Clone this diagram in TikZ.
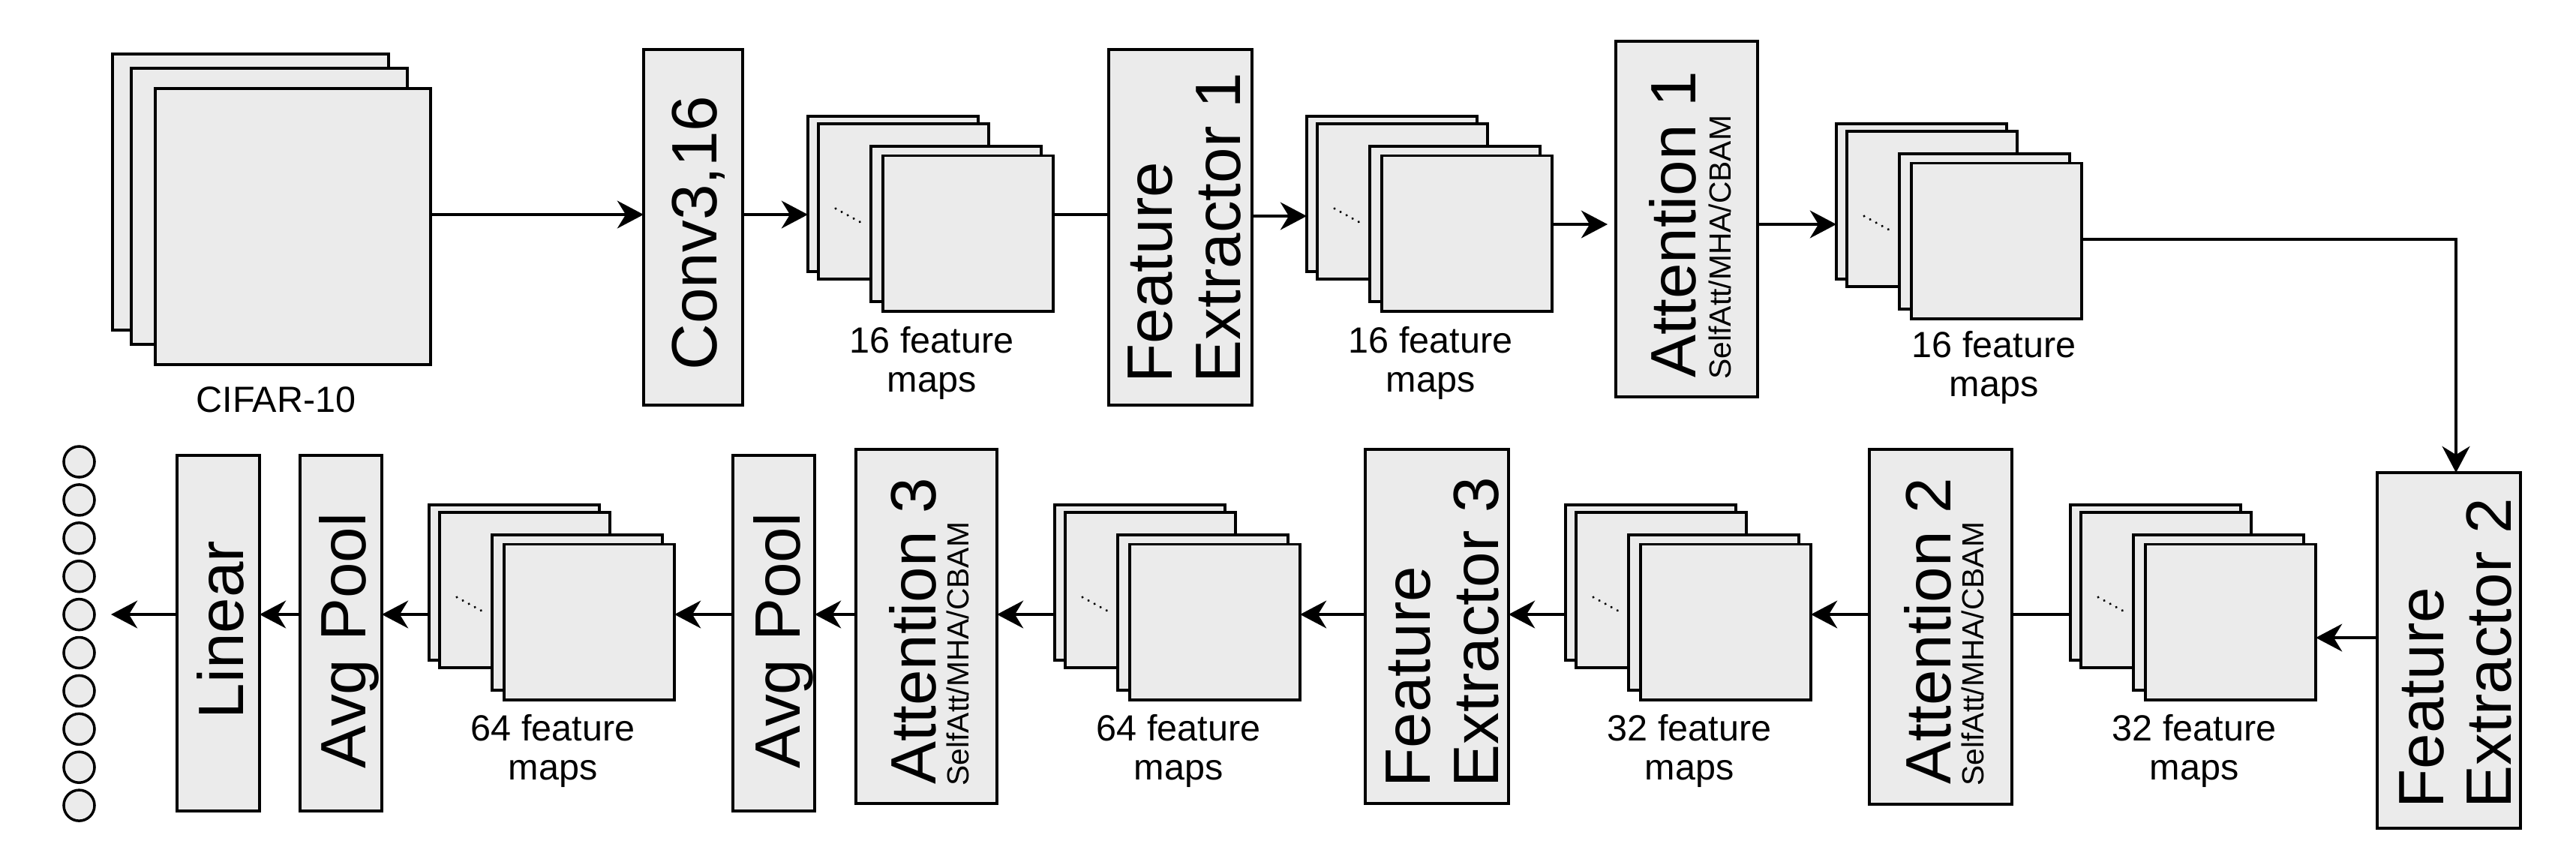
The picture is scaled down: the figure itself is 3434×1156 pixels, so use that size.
\documentclass[tikz,border=0pt]{standalone}
\usepackage{fontspec}
\setmainfont{Liberation Sans}
\usetikzlibrary{arrows.meta}
\definecolor{boxfill}{RGB}{235,235,235}
\tikzset{
  blk/.style={draw=black, fill=boxfill, line width=1.1pt, inner sep=0pt, outer sep=0pt},
  sheet/.style={blk, minimum width=2.27cm, minimum height=2.07cm},
  circ/.style={circle, draw=black, fill=boxfill, line width=1pt, minimum size=0.41cm, inner sep=0pt},
  ln/.style={line width=0.9pt},
  arr/.style={ln, -{Stealth[length=10pt, width=10.5pt, inset=3.2pt]}},
  dots/.style={line width=1pt, line cap=round, dash pattern=on 0.01pt off 2.6pt},
  bigt/.style={rotate=90, anchor=base west, inner sep=0pt, font=\fontsize{24.3pt}{26pt}\selectfont},
  smallt/.style={rotate=90, anchor=base west, inner sep=0pt, font=\fontsize{11.6pt}{12.5pt}\selectfont},
  lab/.style={align=center, inner sep=0pt, font=\fontsize{13.8pt}{14.7pt}\selectfont},
}
\newcommand\blk[5]{\node[blk, minimum width={(#4-#2)*0.01cm}, minimum height={(#5-#3)*0.01cm}] (#1) at ({(#2+#4)/2},{(#3+#5)/2}) {};}
\newcommand\fmstack[3]{%
  \begin{scope}[shift={(#2,#3)}]
    \node[sheet] (#1a) at (113.5,103.5) {};
    \node[sheet] (#1b) at (127.5,113.5) {};
    \node[sheet] (#1c) at (197.5,143.5) {};
    \node[sheet] (#1d) at (213.5,156) {};
    \draw[dots] (37,123) -- (77,145);
  \end{scope}}
\begin{document}
\begin{tikzpicture}[x=0.01cm, y=-0.01cm]
\useasboundingbox (0,0) rectangle (3434,1156);

% helper rows
\coordinate (yA) at (0,286);
\coordinate (yB) at (0,288);
\coordinate (yC) at (0,299);
\coordinate (yD) at (0,319);
\coordinate (yE) at (0,819);
\coordinate (yF) at (0,850);

% input images
\blk{cifa}{150}{72}{518}{440}
\blk{cifb}{175}{91}{543}{459}
\blk{cifc}{207}{118}{574}{486}
\node[lab, anchor=base] (cifl) at (368,549) {CIFAR-10};

% top row boxes
\blk{conv}{858}{66}{990}{540}
\node[bigt] (convt) at (955,494) {Conv3,16};

\fmstack{fmA}{1077}{155}
\node[lab, anchor=north] (fmAl) at (1242,435) {16 feature\\maps};

\blk{fe1}{1478}{66}{1669}{540}
\node[bigt] (fe1t) at (1562,511) {Feature};
\node[bigt] (fe1u) at (1653,511) {Extractor 1};

\fmstack{fmB}{1742}{155}
\node[lab, anchor=north] (fmBl) at (1907,435) {16 feature\\maps};

\blk{att1}{2154}{55}{2343}{529}
\node[bigt] (att1t) at (2260,504) {Attention 1};
\node[smallt] (att1s) at (2307,506) {SelfAtt/MHA/CBAM};

\fmstack{fmC}{2448}{165}
\node[lab, anchor=north] (fmCl) at (2658,441) {16 feature\\maps};

% right box
\blk{fe2}{3169}{630}{3360}{1104}
\node[bigt] (fe2t) at (3257,1078) {Feature};
\node[bigt] (fe2u) at (3347,1078) {Extractor 2};

% bottom row
\fmstack{fmD}{2760}{673}
\node[lab, anchor=north] (fmDl) at (2925,952) {32 feature\\maps};

\blk{att2}{2492}{599}{2682}{1072}
\node[bigt] (att2t) at (2600,1046) {Attention 2};
\node[smallt] (att2s) at (2644,1048) {SelfAtt/MHA/CBAM};

\fmstack{fmE}{2087}{673}
\node[lab, anchor=north] (fmEl) at (2252,952) {32 feature\\maps};

\blk{fe3}{1820}{599}{2011}{1071}
\node[bigt] (fe3t) at (1906,1050) {Feature};
\node[bigt] (fe3u) at (1997,1050) {Extractor 3};

\fmstack{fmF}{1406}{673}
\node[lab, anchor=north] (fmFl) at (1571,952) {64 feature\\maps};

\blk{att3}{1141}{599}{1329}{1071}
\node[bigt] (att3t) at (1247,1046) {Attention 3};
\node[smallt] (att3s) at (1291,1048) {SelfAtt/MHA/CBAM};

\blk{pool1}{977}{607}{1086}{1081}
\node[bigt] (pool1t) at (1066,1025) {Avg Pool};

\fmstack{fmG}{572}{673}
\node[lab, anchor=north] (fmGl) at (737,952) {64 feature\\maps};

\blk{pool2}{400}{607}{509}{1081}
\node[bigt] (pool2t) at (487,1025) {Avg Pool};

\blk{lin}{236}{607}{346}{1081}
\node[bigt] (lint) at (324,959) {Linear};

% output neurons
\foreach \k in {0,...,9}
  \node[circ] (o\k) at (105.5,{615.5+50.9*\k}) {};

% connectors
\draw[arr] (cifc.east |- yA) -- (conv.west |- yA);
\draw[arr] (conv.east |- yA) -- (fmAa.west |- yA);
\draw[ln]  (fmAd.east |- yA) -- (fe1.west |- yA);
\draw[arr] (fe1.east |- yB) -- (fmBa.west |- yB);
\draw[arr, shorten >=0.11cm] (fmBd.east |- yC) -- (att1.west |- yC);
\draw[arr] (att1.east |- yC) -- (fmCa.west |- yC);
\coordinate (corner) at (3274,319);
\draw[arr] (fmCd.east |- yD) -- (corner) -- (corner |- fe2.north);
\draw[arr] (fe2.west |- yF) -- (fmDd.east |- yF);
\draw[ln]  (fmDa.west |- yE) -- (att2.east |- yE);
\draw[arr] (att2.west |- yE) -- (fmEd.east |- yE);
\draw[arr] (fmEa.west |- yE) -- (fe3.east |- yE);
\draw[arr] (fe3.west |- yE) -- (fmFd.east |- yE);
\draw[arr] (fmFa.west |- yE) -- (att3.east |- yE);
\draw[arr] (att3.west |- yE) -- (pool1.east |- yE);
\draw[arr] (pool1.west |- yE) -- (fmGd.east |- yE);
\draw[arr] (fmGa.west |- yE) -- (pool2.east |- yE);
\draw[arr] (pool2.west |- yE) -- (lin.east |- yE);
\coordinate (out) at (148,819);
\draw[arr] (lin.west |- yE) -- (out);
\end{tikzpicture}
\end{document}
